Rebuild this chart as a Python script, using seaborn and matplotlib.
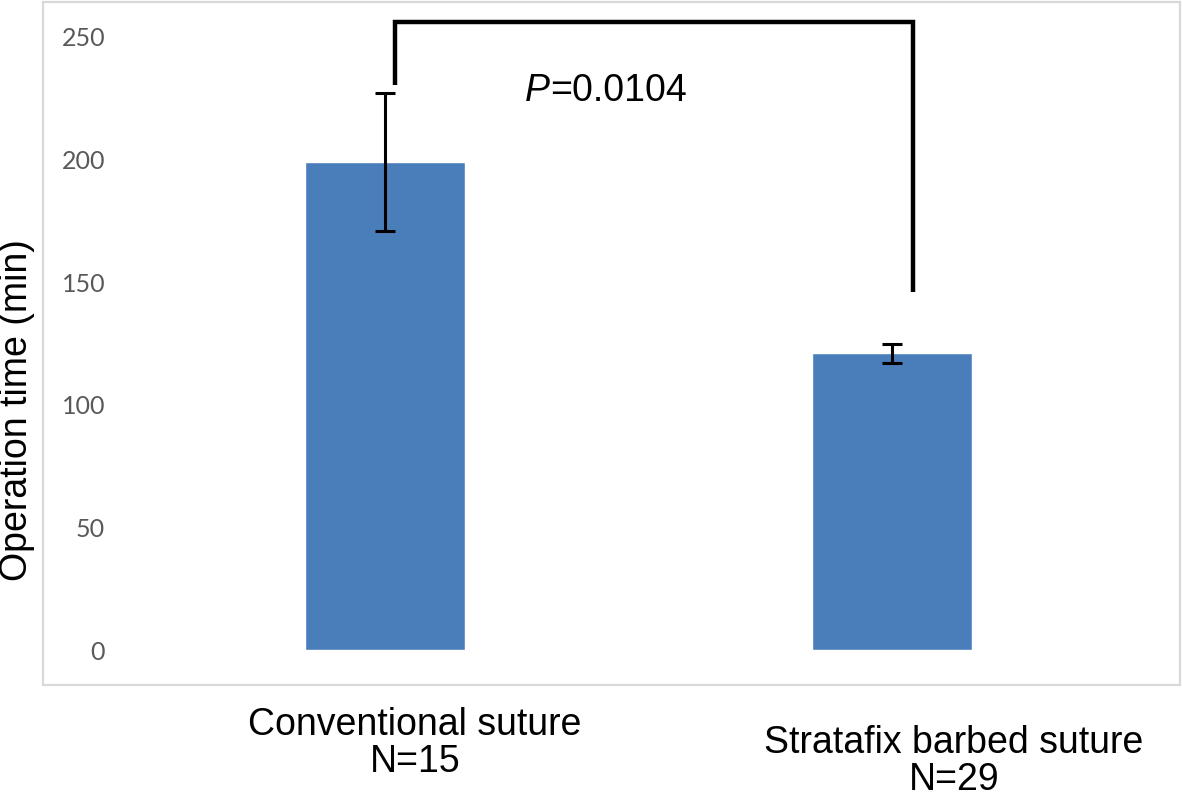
import matplotlib
matplotlib.use("Agg")
import matplotlib.pyplot as plt
import seaborn as sns
import pandas as pd
from matplotlib.patches import Rectangle

categories = ["Conventional suture", "Stratafix barbed suture"]
n_labels = ["N=15", "N=29"]
means = [199, 121]
errors = [28, 4]
p_label = "P"
p_text = "=0.0104"
y_ticks = [0, 50, 100, 150, 200, 250]
bracket_heights = [230.5, 256, 146]

sns.set_theme(style="white")
plt.rcParams['font.family'] = ['Liberation Sans', 'DejaVu Sans']
plt.rcParams['text.color'] = 'black'

W, H = 1182, 801
fig = plt.figure(figsize=(W / 100, H / 100), dpi=100)
ax = fig.add_axes([131.5 / W, 1 - 650 / H, (1145.5 - 131.5) / W, (650 - 37) / H])

df = pd.DataFrame({"group": categories, "value": means})
sns.barplot(data=df, x="group", y="value", color="#4A7EBB", saturation=1,
            width=0.314, errorbar=None, ax=ax)
ax.errorbar(range(len(means)), means, yerr=errors, fmt="none", ecolor="black",
            elinewidth=2.2, capsize=7.5, capthick=2.2, zorder=5)

ax.set_xlim(-0.5, 1.5)
ax.set_ylim(0, 250)
ax.set_yticks(y_ticks)
ax.set_yticklabels([str(t) for t in y_ticks], fontsize=18, color="#595959",
                   family=["Lato", "DejaVu Sans"])
ax.tick_params(axis="y", length=0, pad=19)
ax.set_xticks([])
ax.set_xlabel("")
ax.set_ylabel("")
for s in ax.spines.values():
    s.set_visible(False)

# category labels (offset like the reference)
xt = ax.get_xaxis_transform()
label_x = [0.059, 1.122]
label_y = [-0.093, -0.122]
for x, y, c, n in zip(label_x, label_y, categories, n_labels):
    ax.text(x, y, c + "\n" + n, transform=xt, ha="center", va="top",
            fontsize=27, color="black", linespacing=1.05, clip_on=False)

# significance bracket
bx = [0.0197, 0.0197, 1.041, 1.041]
ax.plot(bx, bracket_heights[:1] + bracket_heights[1:2] * 2 + bracket_heights[2:],
        color="black", lw=3.2, clip_on=False, solid_capstyle="butt",
        solid_joinstyle="miter", zorder=6)
ax.text(0.325, 228, p_label, fontsize=27, ha="right", va="center",
        fontstyle="italic", color="black", clip_on=False)
ax.text(0.325, 228, p_text, fontsize=27, ha="left", va="center",
        color="black", clip_on=False)

# y label
fig.text(17 / W, 1 - 410 / H, "Operation time (min)", rotation=90,
         ha="center", va="center", fontsize=27, color="black")

# chart frame
fig.patches.append(Rectangle((43 / W, 1 - 685 / H), (1180 - 43) / W, (685 - 2) / H,
                             transform=fig.transFigure, fill=False,
                             edgecolor="#d9d9d9", lw=1.6, zorder=0))

fig.savefig("out.png", dpi=100)
